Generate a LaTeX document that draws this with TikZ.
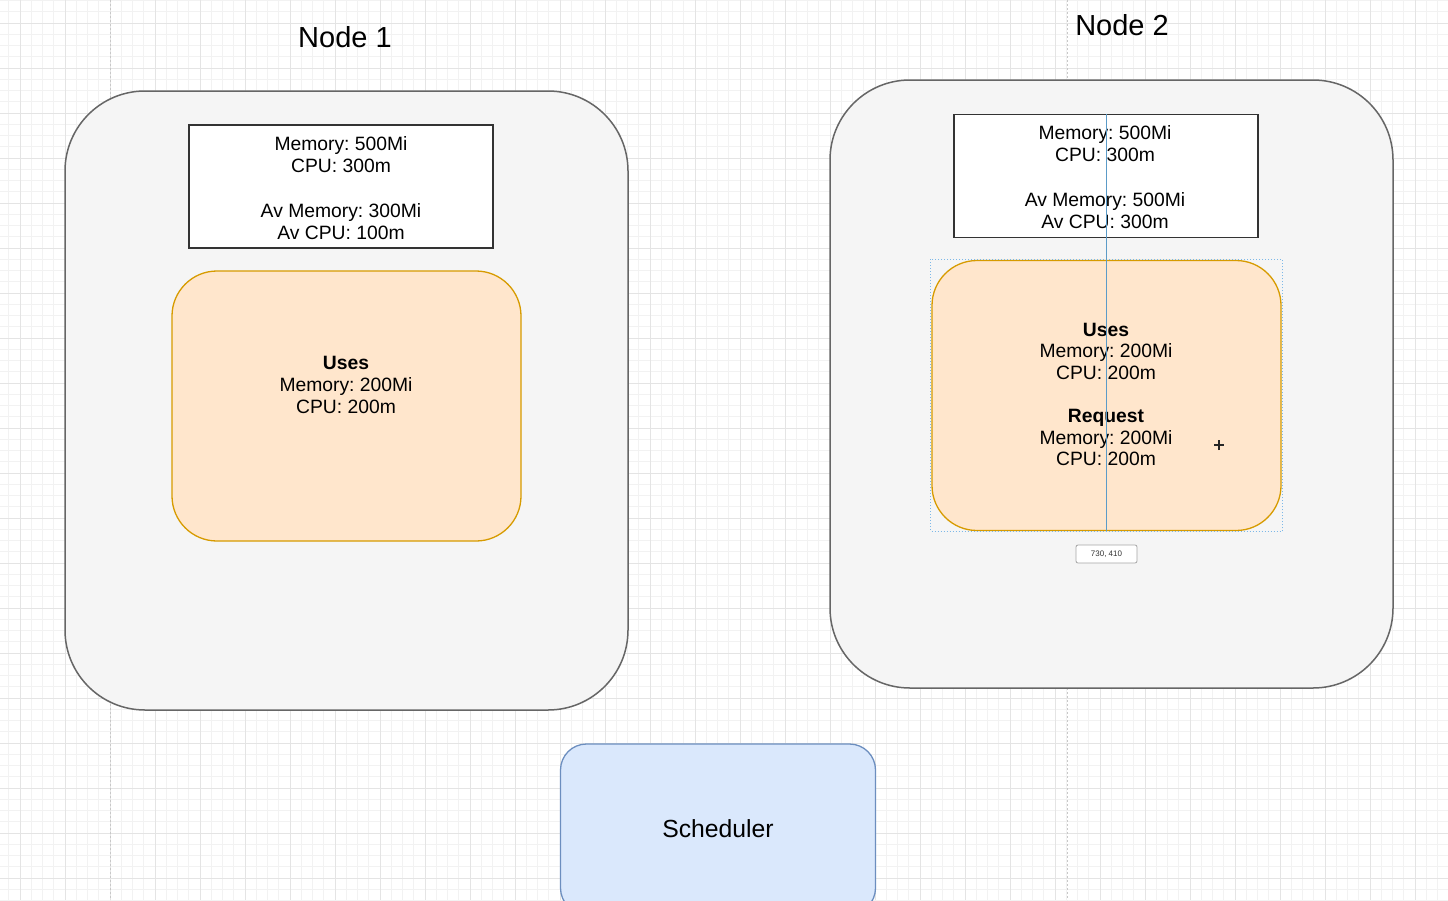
\documentclass[tikz,border=0pt]{standalone}
\usepackage{fontspec}
\setmainfont{Liberation Sans}
\frenchspacing
\definecolor{gridminor}{HTML}{F2F2F2}
\definecolor{gridmajor}{HTML}{E4E4E4}
\definecolor{pagebreak}{HTML}{C8C8C8}
\definecolor{outerfill}{HTML}{F5F5F5}
\definecolor{outerdraw}{HTML}{666666}
\definecolor{infodraw}{HTML}{333333}
\definecolor{podfill}{HTML}{FFE6CC}
\definecolor{poddraw}{HTML}{D79B00}
\definecolor{schedfill}{HTML}{DAE8FC}
\definecolor{scheddraw}{HTML}{6C8EBF}
\definecolor{guideblue}{HTML}{5B9BC8}
\definecolor{selblue}{HTML}{7DB8E8}
\begin{document}
\begin{tikzpicture}[x=1pt,y=-1pt,
  outerbox/.style={draw=outerdraw, fill=outerfill, line width=1.5pt, rounded corners=80pt, minimum width=563pt, inner sep=0pt},
  infobox/.style={draw=infodraw, fill=white, line width=1.5pt, minimum width=304pt, minimum height=123pt, inner sep=0pt},
  podbox/.style={draw=poddraw, fill=podfill, line width=1.3pt, rounded corners=45pt, minimum width=349pt, minimum height=270pt, inner sep=0pt},
  schedbox/.style={draw=scheddraw, fill=schedfill, line width=1.3pt, rounded corners=26pt, minimum width=315pt, minimum height=170pt, inner sep=0pt},
  txt/.style={font=\fontsize{19.3}{22.4}\selectfont, align=center, inner sep=0pt},
  podtxt/.style={font=\fontsize{19.3}{21.6}\selectfont, align=center, inner sep=0pt},
  title/.style={font=\fontsize{29}{35}\selectfont, inner sep=0pt},
  guide/.style={draw=guideblue, line width=1pt},
  selection/.style={draw=selblue, line width=1pt, dotted},
  coordlabel/.style={draw=black!35, fill=white, rounded corners=2pt, line width=0.8pt, minimum width=61pt, minimum height=18pt, inner sep=0pt, font=\fontsize{8}{9}\selectfont, text=black!80}
]
\useasboundingbox (0,0) rectangle (1448,900);
\clip (0,0) rectangle (1448,900);
\fill[white] (0,0) rectangle (1448,900);
% grid
\foreach \i in {0,...,128} {
  \pgfmathsetmacro{\gx}{8.75+11.25*\i}
  \draw[gridminor, line width=0.8pt] (\gx,0) -- (\gx,900);
}
\foreach \i in {0,...,80} {
  \pgfmathsetmacro{\gy}{0.5+11.25*\i}
  \draw[gridminor, line width=0.8pt] (0,\gy) -- (1448,\gy);
}
\foreach \i in {-3,...,30} {
  \pgfmathsetmacro{\gx}{110+45*\i}
  \draw[gridmajor, line width=0.9pt] (\gx,0) -- (\gx,900);
}
\foreach \i in {-1,...,19} {
  \pgfmathsetmacro{\gy}{23+45*\i}
  \draw[gridmajor, line width=0.9pt] (0,\gy) -- (1448,\gy);
}
% page breaks
\draw[pagebreak, line width=0.8pt, dash pattern=on 2pt off 2pt] (110,0) -- (110,900);
\draw[pagebreak, line width=0.8pt, dash pattern=on 2pt off 2pt] (1067,0) -- (1067,900);

% Node 1
\node[title] (t1) at (345,37) {Node 1};
\node[outerbox, minimum height=619pt] (n1) at (346.5,400.5) {};
\node[infobox] (n1info) at (341,186.5) {};
\node[txt] (n1infotxt) at (341,188) {Memory: 500Mi\\CPU: 300m\\\mbox{}\\Av Memory: 300Mi\\Av CPU: 100m};
\node[podbox] (n1pod) at (346.5,406) {};
\node[podtxt] (n1podtxt) at (346,385) {\textbf{Uses}\\Memory: 200Mi\\CPU: 200m};

% Node 2
\node[title] (t2) at (1122,25) {Node 2};
\node[outerbox, minimum height=608pt] (n2) at (1111.5,384) {};
\node[infobox] (n2info) at (1106,176) {};
\node[txt] (n2infotxt) at (1105,177) {Memory: 500Mi\\CPU: 300m\\\mbox{}\\Av Memory: 500Mi\\Av CPU: 300m};
\node[podbox] (n2pod) at (1106.5,395.5) {};
\node[podtxt] (n2podtxt) at (1106,394.5) {\textbf{Uses}\\Memory: 200Mi\\CPU: 200m\\\mbox{}\\\textbf{Request}\\Memory: 200Mi\\CPU: 200m};
\draw[selection] ([xshift=-0.5pt,yshift=0.5pt]n2pod.north west) rectangle ([xshift=0.5pt,yshift=-0.5pt]n2pod.south east);
\draw[guide] (n2info.north) -- (n2info.north |- n2pod.south);
\node[coordlabel] (n2coord) at (1106.5,554) {730, 410};
\coordinate (cur) at (1219,445);
\draw[black!85, line width=1.8pt] ([xshift=-5pt]cur) -- ([xshift=5pt]cur);
\draw[black!85, line width=1.8pt] ([yshift=-5pt]cur) -- ([yshift=5pt]cur);

% Scheduler
\node[schedbox] (sched) at (718,829) {};
\node[txt, font=\fontsize{24.75}{30}\selectfont] (schedtxt) at (718,829) {Scheduler};
\end{tikzpicture}
\end{document}
